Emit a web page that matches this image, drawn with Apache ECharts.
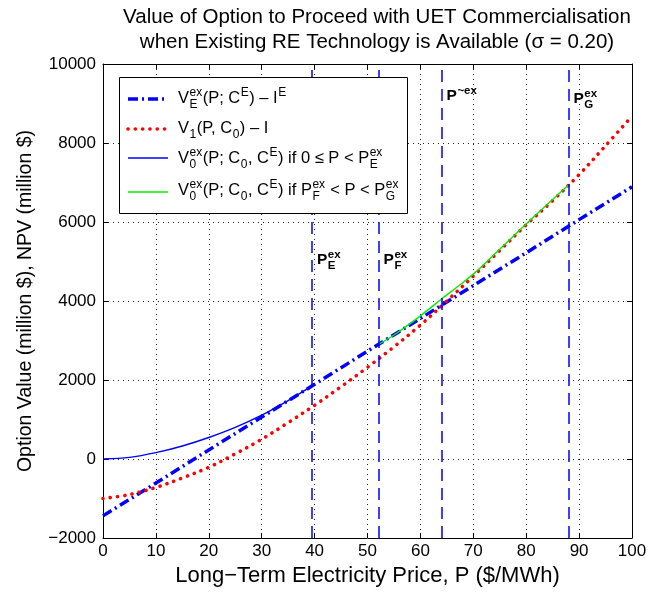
<!DOCTYPE html>
<html>
<head>
<meta charset="utf-8">
<script src="https://cdn.jsdelivr.net/npm/echarts@6/dist/echarts.min.js"></script>
<style>
html, body { margin: 0; padding: 0; background: #fff; }
#chart { width: 666px; height: 596px; }
</style>
</head>
<body>
<div id="chart"></div>
<script>
const FONT = '"Liberation Sans", Arial, Helvetica, sans-serif';

// Exercise value of the existing RE technology, V_E^ex(P; C^E) - I^E
const exPrice = [0, 10, 20, 30, 40, 50, 60, 70, 80, 90, 100];
const exValue = [-1440, -610, 230, 1060, 1890, 2730, 3560, 4390, 5220, 6060, 6890];

// NPV of proceeding with UET, V_1(P, C_0) - I
const npvPrice = [0, 5, 10, 15, 20, 25, 30, 35, 40, 45, 50, 55, 60, 65, 70, 75, 80, 85, 90, 95, 100];
const npvValue = [-1000, -900, -720, -480, -210, 130, 500, 920, 1360, 1830, 2320, 2840, 3390, 4000, 4630, 5280, 5930, 6540, 7200, 7930, 8680];

// Option value V_0^ex on 0 <= P < P_E^ex
const lowPrice = [0, 5, 10, 15, 20, 25, 30, 35, 39.5];
const lowValue = [0, 40, 160, 330, 545, 800, 1110, 1480, 1850];

// Option value V_0^ex on P_F^ex < P < P_G^ex
const midPrice = [52.1, 55, 58, 61, 64, 67, 70, 75, 80, 85, 88];
const midValue = [2900, 3140, 3420, 3730, 4050, 4360, 4680, 5310, 5950, 6570, 6935];

// Threshold prices marked with dashed verticals
const thresholdPrices = [39.5, 52.1, 64.0, 88.0];

// Axis ranges
const xRange = [0, 100, 10];
const yRange = [-2000, 10000, 2000];

const pairs = (xs, ys) => xs.map((x, i) => [x, ys[i]]);

const BLUE = '#0000ff', RED = '#ff0000', GREEN = '#00ee00';
const DASH_DOT = [10, 4, 2, 4];
const DOTS = [0.1, 7.2];

const chart = echarts.init(document.getElementById('chart'), null, { renderer: 'canvas' });

const axisCommon = {
  axisLine: { onZero: false, lineStyle: { color: '#000', width: 1 } },
  axisTick: { inside: true, length: 5, lineStyle: { color: '#000' } },
  splitLine: { show: false }
};
const labelStyle = { color: '#000', fontFamily: FONT, fontSize: 17 };
const gridDots = { show: true, lineStyle: { color: '#222', width: 1, type: [1, 4] } };

chart.setOption({
  animation: false,
  backgroundColor: '#fff',
  title: {
    text: 'Value of Option to Proceed with UET Commercialisation\nwhen Existing RE Technology is Available (\u03c3 = 0.20)',
    left: 377, top: 5, padding: 0, textAlign: 'center',
    textStyle: { color: '#000', fontFamily: FONT, fontSize: 20.5, fontWeight: 'normal', lineHeight: 25 }
  },
  grid: { left: 103, right: 34, top: 64, bottom: 58, containLabel: false },
  xAxis: [
    Object.assign({}, axisCommon, {
      type: 'value', min: xRange[0], max: xRange[1], interval: xRange[2], position: 'bottom',
      axisLabel: Object.assign({ margin: 5 }, labelStyle),
      splitLine: gridDots,
      name: 'Long\u2212Term Electricity Price, P ($/MWh)', nameLocation: 'middle', nameGap: 27,
      nameTextStyle: { color: '#000', fontFamily: FONT, fontSize: 22 }
    }),
    Object.assign({}, axisCommon, {
      type: 'value', min: xRange[0], max: xRange[1], interval: xRange[2], position: 'top',
      axisLabel: { show: false }
    })
  ],
  yAxis: [
    Object.assign({}, axisCommon, {
      type: 'value', min: yRange[0], max: yRange[1], interval: yRange[2], position: 'left',
      axisLabel: Object.assign({ margin: 7, formatter: v => String(v).replace('-', '\u2212') }, labelStyle),
      splitLine: gridDots,
      name: 'Option Value (million $), NPV (million $)', nameLocation: 'middle', nameGap: 67,
      nameTextStyle: { color: '#000', fontFamily: FONT, fontSize: 19.5 }
    }),
    Object.assign({}, axisCommon, {
      type: 'value', min: yRange[0], max: yRange[1], interval: yRange[2], position: 'right',
      axisLabel: { show: false }
    })
  ],
  series: [
    {
      type: 'line', name: 'thresholds', data: [], silent: true,
      markLine: {
        silent: true, symbol: ['none', 'none'], label: { show: false },
        lineStyle: { color: BLUE, width: 1.5, type: [12, 7] },
        emphasis: { disabled: true },
        data: thresholdPrices.map(p => ({ xAxis: p }))
      }
    },
    {
      type: 'line', name: 'exercise', data: pairs(exPrice, exValue), showSymbol: false,
      lineStyle: { color: BLUE, width: 3.5, type: DASH_DOT }
    },
    {
      type: 'line', name: 'npv', data: pairs(npvPrice, npvValue), showSymbol: false, smooth: 0.35,
      lineStyle: { color: RED, width: 3.6, type: DOTS, cap: 'round' }
    },
    {
      type: 'line', name: 'optionLow', data: pairs(lowPrice, lowValue), showSymbol: false, smooth: 0.35,
      lineStyle: { color: BLUE, width: 1.4 }
    },
    {
      type: 'line', name: 'optionMid', data: pairs(midPrice, midValue), showSymbol: false, smooth: 0.35,
      lineStyle: { color: GREEN, width: 1.4 }
    }
  ]
});

// ---- math-style text built from pieces (sub/superscripts stacked) ----
const measureCtx = document.createElement('canvas').getContext('2d');
function textWidth(str, font) { measureCtx.font = font; return measureCtx.measureText(str).width; }

function textEl(str, x, baseline, size, font) {
  return {
    type: 'text', x: x, y: baseline - 0.35 * size, silent: true, z: 100,
    style: { text: str, font: font, fill: '#000', align: 'left', verticalAlign: 'middle' }
  };
}

function mathText(tokens, x, baseline, size, scriptSize, bold) {
  const w = bold ? 'bold ' : '';
  const mainFont = w + size + 'px ' + FONT;
  const scriptFont = w + scriptSize + 'px ' + FONT;
  const els = [];
  let cx = x;
  tokens.forEach(tk => {
    if (typeof tk === 'string') {
      els.push(textEl(tk, cx, baseline, size, mainFont));
      cx += textWidth(tk, mainFont);
    } else {
      let adv = 0;
      if (tk.sup) {
        els.push(textEl(tk.sup, cx + 0.5, baseline - size * 0.42, scriptSize, scriptFont));
        adv = Math.max(adv, textWidth(tk.sup, scriptFont));
      }
      if (tk.sub) {
        els.push(textEl(tk.sub, cx + 0.5, baseline + size * 0.3, scriptSize, scriptFont));
        adv = Math.max(adv, textWidth(tk.sub, scriptFont));
      }
      cx += adv + 1;
    }
  });
  return els;
}

// ---- legend ----
const legendRows = [
  { style: { stroke: BLUE, lineWidth: 3.5, lineDash: DASH_DOT },
    tokens: ['V', { sup: 'ex', sub: 'E' }, '(P; C', { sup: 'E' }, ') \u2013 I', { sup: 'E' }] },
  { style: { stroke: RED, lineWidth: 3.6, lineDash: DOTS, lineCap: 'round' },
    tokens: ['V', { sub: '1' }, '(P, C', { sub: '0' }, ') \u2013 I'] },
  { style: { stroke: BLUE, lineWidth: 1.4 },
    tokens: ['V', { sup: 'ex', sub: '0' }, '(P; C', { sub: '0' }, ', C', { sup: 'E' }, ') if 0 \u2264 P < P', { sup: 'ex', sub: 'E' }] },
  { style: { stroke: GREEN, lineWidth: 1.4 },
    tokens: ['V', { sup: 'ex', sub: '0' }, '(P; C', { sub: '0' }, ', C', { sup: 'E' }, ') if P', { sup: 'ex', sub: 'F' }, ' < P < P', { sup: 'ex', sub: 'G' }] }
];
const legendBox = { x: 119, y: 77, w: 288, h: 136 };
const rowBaselines = [104, 134, 164, 196];
const rowLineY = [99, 129, 158, 192];

const graphics = [{
  type: 'rect', silent: true, z: 90,
  shape: { x: legendBox.x + 0.5, y: legendBox.y + 0.5, width: legendBox.w, height: legendBox.h },
  style: { fill: '#fff', stroke: '#000', lineWidth: 1 }
}];
legendRows.forEach((row, i) => {
  graphics.push({
    type: 'polyline', silent: true, z: 95,
    shape: { points: [[128, rowLineY[i]], [168, rowLineY[i]]] },
    style: Object.assign({ fill: null }, row.style)
  });
  mathText(row.tokens, 178, rowBaselines[i], 16.5, 12, false).forEach(e => graphics.push(e));
});

// ---- threshold labels ----
const thresholdLabels = [
  { price: thresholdPrices[0], value: 4900, tokens: ['P', { sup: 'ex', sub: 'E' }] },
  { price: thresholdPrices[1], value: 4900, tokens: ['P', { sup: 'ex', sub: 'F' }] },
  { price: thresholdPrices[2], value: 9050, tokens: ['P', { sup: '~ex' }] },
  { price: thresholdPrices[3], value: 8980, tokens: ['P', { sup: 'ex', sub: 'G' }] }
];
thresholdLabels.forEach(lb => {
  const pt = chart.convertToPixel({ xAxisIndex: 0, yAxisIndex: 0 }, [lb.price, lb.value]);
  mathText(lb.tokens, pt[0] + 5, pt[1], 15.5, 11.5, true).forEach(e => graphics.push(e));
});

chart.setOption({ graphic: graphics });
</script>
</body>
</html>
